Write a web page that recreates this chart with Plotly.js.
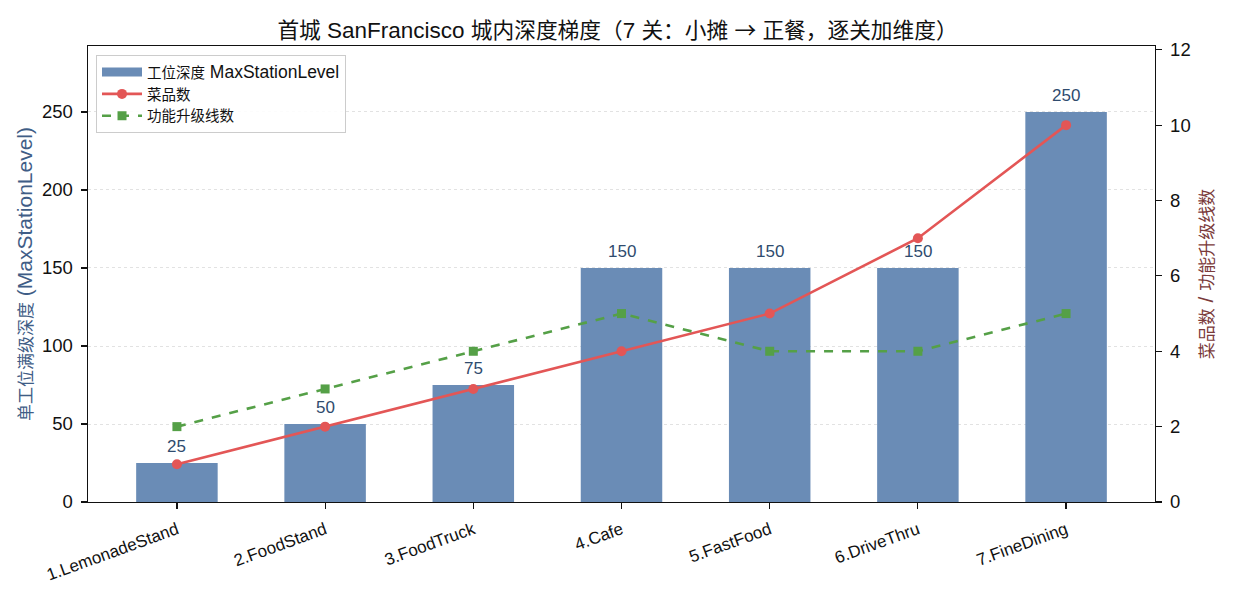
<!DOCTYPE html>
<html>
<head>
<meta charset="utf-8">
<script src="https://cdn.plot.ly/plotly-3.0.1.min.js"></script>
<style>html,body{margin:0;padding:0;background:#fff;}#chart{width:1235px;height:598px;}</style>
</head>
<body>
<div id="chart"></div>
<script>
// City levels of San Francisco
const levels = ['1.LemonadeStand', '2.FoodStand', '3.FoodTruck', '4.Cafe', '5.FastFood', '6.DriveThru', '7.FineDining'];
const maxStationLevel = [25, 50, 75, 150, 150, 150, 250];
const dishCount = [1, 2, 3, 4, 5, 7, 10];
const upgradeLines = [2, 3, 4, 5, 4, 4, 5];

const LATIN = '"Liberation Sans", Arial, sans-serif';
const CJK = 'Noto Sans CJK SC';
const BAR_COLOR = '#6a8cb6';
const idx = levels.map((_, i) => i);

// CJK runs get their own face and size; Latin runs optionally a size of their own
function mixed(s, cjkPx, latinPx) {
  return s.replace(/[^\x00-\x7F]+|[\x00-\x7F]+/g, m => {
    if (/[^\x00-\x7F]/.test(m)) {
      return `<span style="font-family:'${CJK}';font-size:${cjkPx}px">${m}</span>`;
    }
    return latinPx ? `<span style="font-size:${latinPx}px">${m}</span>` : m;
  });
}

const LEG_CJK = 14.5, LEG_LATIN = 17.5;

const bars = {
  type: 'bar', x: idx, y: maxStationLevel, width: 0.55,
  name: mixed('工位深度 MaxStationLevel', LEG_CJK, LEG_LATIN), showlegend: false,
  marker: {color: BAR_COLOR},
  yaxis: 'y', hoverinfo: 'y'
};
// legend entry for the bars, drawn as a wide flat swatch
const barsLegend = {
  type: 'scatter', mode: 'lines', x: [null], y: [null],
  name: mixed('工位深度 MaxStationLevel', LEG_CJK, LEG_LATIN), yaxis: 'y',
  line: {color: BAR_COLOR, width: 9}
};
const dishes = {
  type: 'scatter', mode: 'lines+markers', x: idx, y: dishCount,
  name: mixed('菜品数', LEG_CJK, LEG_LATIN), yaxis: 'y2',
  line: {color: '#e35656', width: 2.6},
  marker: {color: '#e35656', size: 10, symbol: 'circle'}
};
const upgrades = {
  type: 'scatter', mode: 'lines+markers', x: idx, y: upgradeLines,
  name: mixed('功能升级线数', LEG_CJK, LEG_LATIN), yaxis: 'y2',
  line: {color: '#55a047', width: 2.6, dash: 'dash'},
  marker: {color: '#55a047', size: 9, symbol: 'square'}
};

// value labels above each bar
const barLabels = maxStationLevel.map((v, i) => ({
  x: i, y: v, xref: 'x', yref: 'y', text: String(v), showarrow: false,
  yanchor: 'bottom', yshift: 5,
  font: {family: LATIN, size: 17, color: '#2f4b6e'}
}));

const layout = {
  width: 1235, height: 598,
  margin: {l: 88, r: 80, t: 46, b: 96},
  paper_bgcolor: '#fff', plot_bgcolor: '#fff',
  font: {family: LATIN, color: '#111'},
  title: {
    text: mixed('首城 SanFrancisco 城内深度梯度（7 关：小摊 → 正餐，逐关加维度）', 21.7),
    x: 0.5, xanchor: 'center', y: 0.95, yanchor: 'middle',
    font: {family: LATIN, size: 22.5, color: '#111'}
  },
  showlegend: true,
  legend: {
    x: 0.0075, y: 0.98, xanchor: 'left', yanchor: 'top',
    bgcolor: 'rgba(255,255,255,0.9)', bordercolor: '#cccccc', borderwidth: 1,
    font: {family: LATIN, size: 14.5, color: '#111'},
    tracegroupgap: 0, itemwidth: 40
  },
  xaxis: {
    range: [-0.6, 6.6], tickvals: idx, ticktext: levels,
    tickangle: -20, ticks: 'outside', ticklen: 6, tickwidth: 1.2, tickcolor: '#111',
    ticklabelstandoff: 4,
    showline: true, linecolor: '#111', linewidth: 1.4, mirror: true,
    showgrid: false, zeroline: false,
    tickfont: {family: LATIN, size: 17, color: '#111'}
  },
  yaxis: {
    range: [0, 292.3], tickvals: [0, 50, 100, 150, 200, 250],
    ticks: 'outside', ticklen: 6, tickwidth: 1.2, tickcolor: '#111',
    ticklabelstandoff: 4,
    showline: true, linecolor: '#111', linewidth: 1.4,
    showgrid: true, gridcolor: '#e2e2e2', griddash: 'dot', gridwidth: 1,
    zeroline: false,
    tickfont: {family: LATIN, size: 18.5, color: '#111'},
    title: {text: mixed('单工位满级深度 (MaxStationLevel)', 17), standoff: 3,
      font: {family: LATIN, size: 21, color: '#3f5d86'}}
  },
  yaxis2: {
    overlaying: 'y', side: 'right',
    range: [0, 12.1], tickvals: [0, 2, 4, 6, 8, 10, 12],
    ticks: 'outside', ticklen: 6, tickwidth: 1.2, tickcolor: '#111',
    ticklabelstandoff: 4,
    showline: true, linecolor: '#111', linewidth: 1.4,
    showgrid: false, zeroline: false,
    tickfont: {family: LATIN, size: 18.5, color: '#111'},
    title: {text: mixed('菜品数 / 功能升级线数', 17), standoff: 8,
      font: {family: LATIN, size: 21, color: '#7a3a3a'}}
  },
  annotations: barLabels
};

Plotly.newPlot('chart', [bars, barsLegend, dishes, upgrades], layout, {displayModeBar: false, staticPlot: true});
</script>
</body>
</html>
